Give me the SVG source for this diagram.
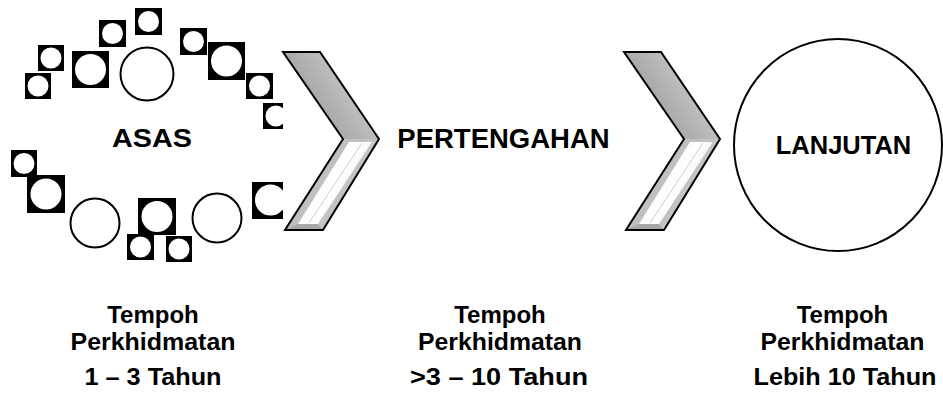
<svg xmlns="http://www.w3.org/2000/svg" xmlns:xlink="http://www.w3.org/1999/xlink" width="943" height="395" viewBox="0 0 943 395">
<style>
.t{font-family:"Liberation Sans",Arial,sans-serif;font-weight:bold;fill:#000;text-anchor:middle}
.b{font-size:24px}
.sq{fill:#000}
.hole{fill:#fff}
.ring{fill:#fff;stroke:#000;stroke-width:2}
</style>
<defs>
<clipPath id="clipL"><rect x="0" y="0" width="283" height="395"/></clipPath>
<linearGradient id="gUp" x1="0" y1="0" x2="1" y2="-0.6">
<stop offset="0" stop-color="#a9a9a9"/>
<stop offset="0.5" stop-color="#cdcdcd"/>
<stop offset="1" stop-color="#b2b2b2"/>
</linearGradient>
<linearGradient id="gLow" x1="0" y1="0" x2="1" y2="0.6">
<stop offset="0" stop-color="#b8b8b8"/>
<stop offset="1" stop-color="#c8c8c8"/>
</linearGradient>
<linearGradient id="gHi" x1="0" y1="0" x2="1" y2="0.6">
<stop offset="0" stop-color="#f4f4f4"/>
<stop offset="0.6" stop-color="#ffffff"/>
<stop offset="1" stop-color="#e6e6e6"/>
</linearGradient>
<g id="chev">
<polygon points="283,52 320,52 379,139 343,139" fill="url(#gUp)"/>
<polygon points="343,139 379,139 323,230 285,230" fill="url(#gLow)"/>
<polygon points="349,142 372,142 318,224 298,224" fill="url(#gHi)"/>
<line x1="362" y1="143" x2="309" y2="223" stroke="#cfcfcf" stroke-width="1"/>
<polygon points="287,229 298,224 318,224 322,229" fill="#a8a8a8"/>
<polygon points="283,52 320,52 379,139 323,230 285,230 343,139" fill="none" stroke="#000" stroke-width="2" stroke-linejoin="miter"/>
</g>
</defs>
<rect width="943" height="395" fill="#fff"/>

<g id="connectors">
<use xlink:href="#chev" href="#chev"/>
<use xlink:href="#chev" href="#chev" transform="translate(341,0)"/>
</g>

<g id="asas">
<g clip-path="url(#clipL)">
<rect class="sq" x="25" y="73" width="26" height="26"/><circle class="hole" cx="38" cy="86" r="10.5"/>
<rect class="sq" x="38" y="45" width="26" height="26"/><circle class="hole" cx="51" cy="58" r="10.5"/>
<rect class="sq" x="72" y="51" width="37" height="37"/><circle class="hole" cx="90.5" cy="69.5" r="15.5"/>
<rect class="sq" x="99" y="20" width="27" height="27"/><circle class="hole" cx="112.5" cy="33.5" r="10.5"/>
<rect class="sq" x="135" y="8" width="27" height="27"/><circle class="hole" cx="148.5" cy="21.5" r="10.5"/>
<circle class="ring" cx="147" cy="74" r="26.5"/>
<rect class="sq" x="180" y="28" width="27" height="27"/><circle class="hole" cx="193.5" cy="41.5" r="10.5"/>
<rect class="sq" x="208" y="42" width="37" height="38"/><circle class="hole" cx="226.5" cy="61" r="15.5"/>
<rect class="sq" x="246" y="73" width="27" height="26"/><circle class="hole" cx="259.5" cy="86" r="10.5"/>
<rect class="sq" x="263" y="103" width="26" height="26"/><circle class="hole" cx="276" cy="116" r="10.5"/>
<rect class="sq" x="11" y="150" width="26" height="27"/><circle class="hole" cx="24" cy="163.5" r="10.5"/>
<rect class="sq" x="27" y="175" width="38" height="38"/><circle class="hole" cx="46" cy="194" r="15.5"/>
<circle class="ring" cx="95" cy="223" r="24.5"/>
<rect class="sq" x="138" y="198" width="38" height="37"/><circle class="hole" cx="157" cy="216.5" r="15.5"/>
<rect class="sq" x="127" y="234" width="27" height="26"/><circle class="hole" cx="140.5" cy="247" r="10.5"/>
<rect class="sq" x="166" y="236" width="26" height="26"/><circle class="hole" cx="179" cy="249" r="10.5"/>
<circle class="ring" cx="217" cy="218" r="24.5"/>
<rect class="sq" x="252" y="182" width="37" height="37"/><circle class="hole" cx="270.5" cy="200" r="15.5"/>
</g>
<text class="t" x="152" y="147" font-size="25.5" textLength="80" lengthAdjust="spacingAndGlyphs">ASAS</text>
</g>

<g id="pertengahan">
<text class="t" x="503.5" y="148" font-size="27.5">PERTENGAHAN</text>
</g>

<g id="lanjutan">
<ellipse class="ring" cx="838" cy="145" rx="104" ry="106"/>
<text class="t" x="843.5" y="154" font-size="25.5">LANJUTAN</text>
</g>

<g id="label1">
<text class="t b" x="153" y="323">Tempoh</text>
<text class="t b" x="153" y="350" textLength="165" lengthAdjust="spacingAndGlyphs">Perkhidmatan</text>
<text class="t b" x="153" y="385" textLength="137" lengthAdjust="spacingAndGlyphs">1 – 3 Tahun</text>
</g>
<g id="label2">
<text class="t b" x="500" y="323">Tempoh</text>
<text class="t b" x="500" y="350" textLength="164" lengthAdjust="spacingAndGlyphs">Perkhidmatan</text>
<text class="t b" x="499" y="385" textLength="178" lengthAdjust="spacingAndGlyphs">&gt;3 – 10 Tahun</text>
</g>
<g id="label3">
<text class="t b" x="842.5" y="323">Tempoh</text>
<text class="t b" x="842.5" y="350" textLength="164" lengthAdjust="spacingAndGlyphs">Perkhidmatan</text>
<text class="t b" x="845" y="385" textLength="183" lengthAdjust="spacingAndGlyphs">Lebih 10 Tahun</text>
</g>
</svg>
